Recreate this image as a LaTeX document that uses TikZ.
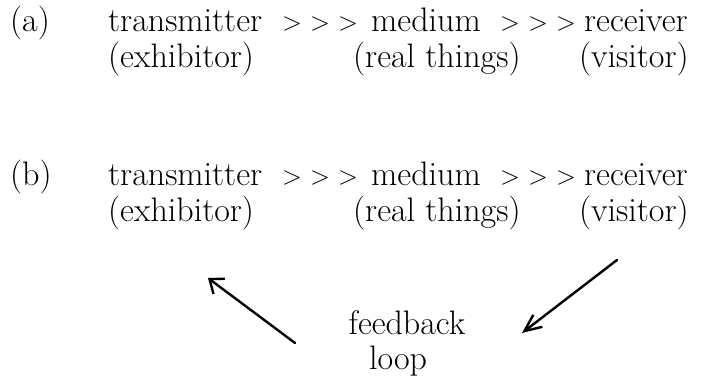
\documentclass[tikz,border=0pt]{standalone}
\usetikzlibrary{arrows.meta}
\tikzset{
  txt/.style={inner sep=0pt, font=\fontsize{34}{40}\selectfont, anchor=base west},
  ctxt/.style={inner sep=0pt, font=\fontsize{34}{40}\selectfont, anchor=base},
  gtsign/.style={inner sep=0pt, font=\fontsize{26}{30}\selectfont, anchor=center},
  handarrow/.style={line width=2.4pt, line cap=round, line join=round},
}
\begin{document}
\begin{tikzpicture}[x=1pt,y=-1pt]
\useasboundingbox (0,0) rectangle (702,379);
\fill[white] (0,0) rectangle (702,379);
% ---- row (a)
\node[txt] (la) at (10,32) {(a)};
\node[txt] (ta) at (108,32) {transmitter};
\node[gtsign] (ga1) at (292,24) {>};
\node[gtsign] (ga2) at (320,24) {>};
\node[gtsign] (ga3) at (348,24) {>};
\node[ctxt] (ma) at (426,32) {medium};
\node[gtsign] (ga4) at (510,24) {>};
\node[gtsign] (ga5) at (538,24) {>};
\node[gtsign] (ga6) at (566,24) {>};
\node[txt] (ra) at (584,32) {receiver};
\node[txt] (ea) at (108,68) {(exhibitor)};
\node[txt] (rta) at (353,68) {(real things)};
\node[txt] (va) at (579,68) {(visitor)};
% ---- row (b)
\node[txt] (lb) at (10,186) {(b)};
\node[txt] (tb) at (108,186) {transmitter};
\node[gtsign] (gb1) at (292,178) {>};
\node[gtsign] (gb2) at (320,178) {>};
\node[gtsign] (gb3) at (348,178) {>};
\node[ctxt] (mb) at (426,186) {medium};
\node[gtsign] (gb4) at (510,178) {>};
\node[gtsign] (gb5) at (538,178) {>};
\node[gtsign] (gb6) at (566,178) {>};
\node[txt] (rb) at (584,186) {receiver};
\node[txt] (eb) at (108,222) {(exhibitor)};
\node[txt] (rtb) at (353,222) {(real things)};
\node[txt] (vb) at (579,222) {(visitor)};
% ---- feedback loop
\node[ctxt] (fb) at (407,335) {feedback};
\node[ctxt] (lp) at (398,370) {loop};
% ---- arrows
\coordinate (lstart) at (295,343);
\coordinate (lend) at (208,278);
\coordinate (rstart) at (617,260);
\coordinate (rend) at (522,333);
\draw[handarrow,-{Straight Barb[length=12pt,width=19pt]}] (lstart) -- (lend);
\draw[handarrow,-{Straight Barb[length=17pt,width=15pt]}] (rstart) -- (rend);
\end{tikzpicture}
\end{document}
